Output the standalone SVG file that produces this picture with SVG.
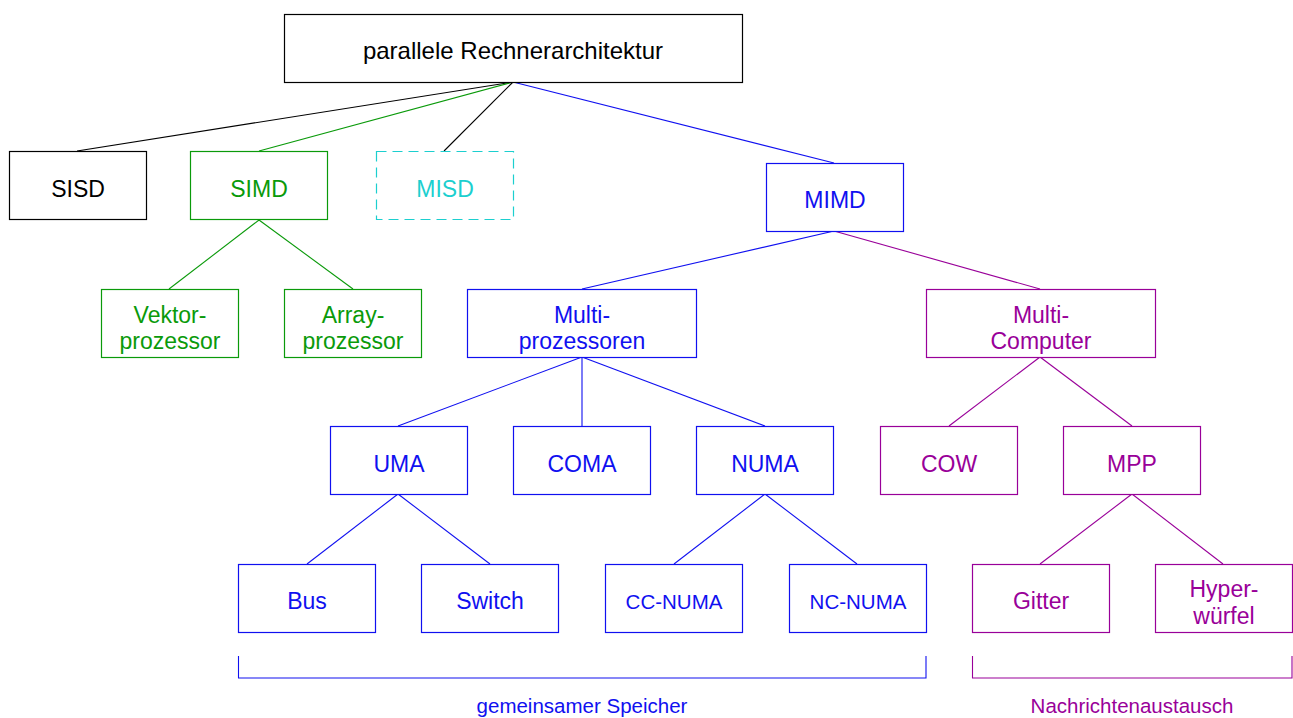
<svg xmlns="http://www.w3.org/2000/svg" width="1293" height="718" viewBox="0 0 1293 718">
<style>
rect{fill:#fff;stroke-width:1.2}
text{font-family:"Liberation Sans",Arial,sans-serif;font-size:23px;text-anchor:middle}
.k rect{stroke:#000}.k text{fill:#000}
.g rect{stroke:#0a9a0a}.g text{fill:#0a9a0a}
.c rect{stroke:#1ccfcf;stroke-dasharray:10 6}.c text{fill:#1ccfcf}
.b rect{stroke:#1010f0}.b text{fill:#1010f0}
.p rect{stroke:#990099}.p text{fill:#990099}
.sm{font-size:20.5px}
.lg{font-size:24px}
#connectors line,#connectors path{stroke-width:1.1;fill:none}
</style>
<rect x="0" y="0" width="1293" height="718" style="fill:#fff;stroke:none"/>
<g id="connectors">
<line x1="513" y1="82" x2="77" y2="151" stroke="#000"/>
<line x1="513" y1="82" x2="259" y2="151" stroke="#0a9a0a"/>
<line x1="513" y1="82" x2="444" y2="151" stroke="#000"/>
<line x1="513" y1="82" x2="834" y2="163" stroke="#1010f0"/>
<line x1="259" y1="220" x2="169" y2="289" stroke="#0a9a0a"/>
<line x1="259" y1="220" x2="353" y2="289" stroke="#0a9a0a"/>
<line x1="834" y1="231" x2="582" y2="289" stroke="#1010f0"/>
<line x1="834" y1="231" x2="1040" y2="289" stroke="#990099"/>
<line x1="582" y1="357" x2="398" y2="426" stroke="#1010f0"/>
<line x1="582" y1="357" x2="582" y2="426" stroke="#1010f0"/>
<line x1="582" y1="357" x2="765" y2="426" stroke="#1010f0"/>
<line x1="1040" y1="357" x2="949" y2="426" stroke="#990099"/>
<line x1="1040" y1="357" x2="1132" y2="426" stroke="#990099"/>
<line x1="398" y1="494" x2="307" y2="564" stroke="#1010f0"/>
<line x1="398" y1="494" x2="490" y2="564" stroke="#1010f0"/>
<line x1="765" y1="494" x2="674" y2="564" stroke="#1010f0"/>
<line x1="765" y1="494" x2="857" y2="564" stroke="#1010f0"/>
<line x1="1132" y1="494" x2="1040" y2="564" stroke="#990099"/>
<line x1="1132" y1="494" x2="1223" y2="564" stroke="#990099"/>
<path d="M238.5 656 V678 H926 V656" stroke="#1010f0"/>
<path d="M972.5 656 V678 H1292 V656" stroke="#990099"/>
</g>
<g id="root" class="k"><rect x="284.5" y="14.5" width="458" height="68"/><text class="lg" x="513" y="59">parallele Rechnerarchitektur</text></g>
<g id="sisd" class="k"><rect x="9.5" y="151.5" width="137" height="68"/><text x="78" y="197">SISD</text></g>
<g id="simd" class="g"><rect x="190.5" y="151.5" width="137" height="68"/><text x="259" y="197">SIMD</text></g>
<g id="misd" class="c"><rect x="376.5" y="151.5" width="137" height="68"/><text x="445" y="197">MISD</text></g>
<g id="mimd" class="b"><rect x="766.5" y="163.5" width="137" height="68"/><text x="835" y="208">MIMD</text></g>
<g id="vektor" class="g"><rect x="101.5" y="289.5" width="137" height="68"/><text x="170" y="323">Vektor-</text><text x="170" y="349">prozessor</text></g>
<g id="array" class="g"><rect x="284.5" y="289.5" width="137" height="68"/><text x="353" y="323">Array-</text><text x="353" y="349">prozessor</text></g>
<g id="multiproz" class="b"><rect x="467.5" y="289.5" width="229" height="68"/><text x="582" y="323">Multi-</text><text x="582" y="349">prozessoren</text></g>
<g id="multicomp" class="p"><rect x="926.5" y="289.5" width="229" height="68"/><text x="1041" y="323">Multi-</text><text x="1041" y="349">Computer</text></g>
<g id="uma" class="b"><rect x="330.5" y="426.5" width="137" height="68"/><text x="399" y="472">UMA</text></g>
<g id="coma" class="b"><rect x="513.5" y="426.5" width="137" height="68"/><text x="582" y="472">COMA</text></g>
<g id="numa" class="b"><rect x="696.5" y="426.5" width="137" height="68"/><text x="765" y="472">NUMA</text></g>
<g id="cow" class="p"><rect x="880.5" y="426.5" width="137" height="68"/><text x="949" y="472">COW</text></g>
<g id="mpp" class="p"><rect x="1063.5" y="426.5" width="137" height="68"/><text x="1132" y="472">MPP</text></g>
<g id="bus" class="b"><rect x="238.5" y="564.5" width="137" height="68"/><text x="307" y="609">Bus</text></g>
<g id="switch" class="b"><rect x="421.5" y="564.5" width="137" height="68"/><text x="490" y="609">Switch</text></g>
<g id="ccnuma" class="b"><rect x="605.5" y="564.5" width="137" height="68"/><text class="sm" x="674" y="609">CC-NUMA</text></g>
<g id="ncnuma" class="b"><rect x="789.5" y="564.5" width="137" height="68"/><text class="sm" x="858" y="609">NC-NUMA</text></g>
<g id="gitter" class="p"><rect x="972.5" y="564.5" width="137" height="68"/><text x="1041" y="609">Gitter</text></g>
<g id="hyper" class="p"><rect x="1155.5" y="564.5" width="137" height="68"/><text x="1224" y="597">Hyper-</text><text x="1224" y="624">würfel</text></g>
<g id="label-shared" class="b"><text class="sm" x="582" y="713">gemeinsamer Speicher</text></g>
<g id="label-msg" class="p"><text class="sm" x="1132" y="713">Nachrichtenaustausch</text></g>
</svg>
